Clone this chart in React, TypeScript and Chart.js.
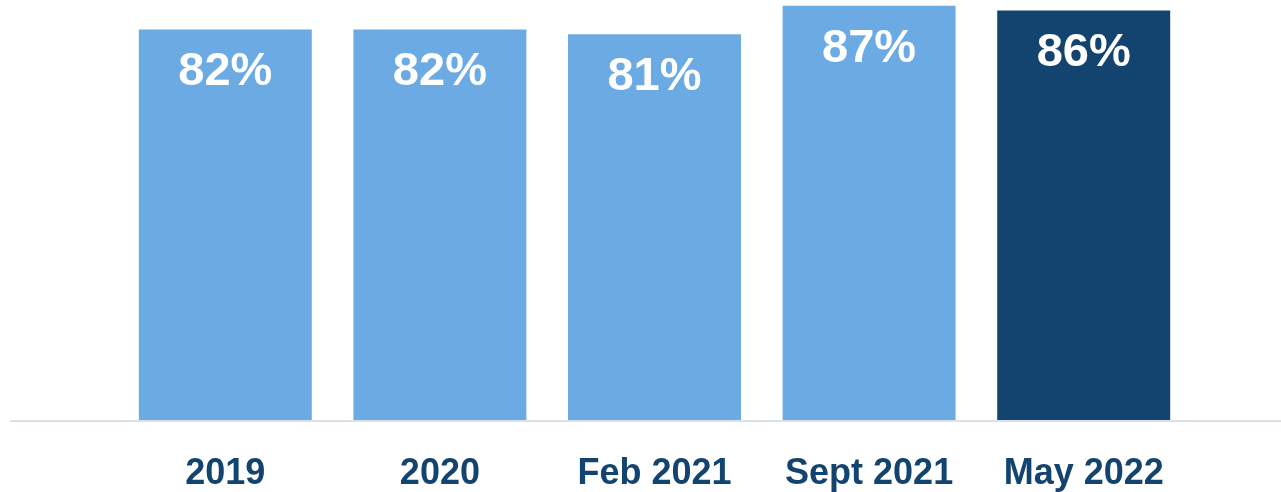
import React, { useEffect, useRef } from "react";
import { Chart, registerables } from "chart.js";

Chart.register(...registerables);

const categories = ["2019", "2020", "Feb 2021", "Sept 2021", "May 2022"];
const values = [82, 82, 81, 87, 86];
const barColors = ["#6CAAE3", "#6CAAE3", "#6CAAE3", "#6CAAE3", "#13446F"];

const FONT = "'Liberation Sans', Arial, Helvetica, sans-serif";

const baselinePlugin = {
  id: "baseline",
  beforeDatasetsDraw(chart: any) {
    const { ctx, scales } = chart;
    const y = scales.y.getPixelForValue(0);
    ctx.save();
    ctx.strokeStyle = "#D9E2EA";
    ctx.lineWidth = 2;
    ctx.beginPath();
    ctx.moveTo(10, y + 1);
    ctx.lineTo(chart.width, y + 1);
    ctx.stroke();
    ctx.restore();
  },
};

const valueLabelPlugin = {
  id: "valueLabels",
  afterDatasetsDraw(chart: any) {
    const { ctx } = chart;
    const meta = chart.getDatasetMeta(0);
    ctx.save();
    ctx.fillStyle = "#FFFFFF";
    ctx.font = `bold 47px ${FONT}`;
    ctx.textAlign = "center";
    ctx.textBaseline = "middle";
    meta.data.forEach((bar: any, i: number) => {
      ctx.fillText(`${values[i]}%`, bar.x, bar.y + 43);
    });
    ctx.restore();
  },
};

export default function App() {
  const ref = useRef<HTMLCanvasElement | null>(null);
  useEffect(() => {
    if (!ref.current) return;
    const chart = new Chart(ref.current, {
      type: "bar",
      data: {
        labels: categories,
        datasets: [
          {
            data: values,
            backgroundColor: barColors,
            borderWidth: 0,
            categoryPercentage: 1,
            barPercentage: 0.806,
          },
        ],
      },
      options: {
        animation: false,
        responsive: false,
        maintainAspectRatio: false,
        layout: { padding: { left: 118, right: 90, top: 0, bottom: 0 } },
        plugins: { legend: { display: false }, tooltip: { enabled: false } },
        scales: {
          x: {
            grid: { display: false, drawTicks: false },
            border: { display: false },
            afterFit: (scale: any) => {
              scale.height = 72;
            },
            ticks: {
              padding: 32,
              color: "#13446F",
              font: { family: FONT, size: 36, weight: "bold" },
              maxRotation: 0,
              autoSkip: false,
            },
          },
          y: {
            display: false,
            min: 0,
            max: 88.2,
          },
        },
      },
      plugins: [baselinePlugin, valueLabelPlugin],
    });
    return () => chart.destroy();
  }, []);
  return (
    <div style={{ position: "fixed", left: 0, top: 0, width: 1281, height: 492, background: "#fff" }}>
      <canvas ref={ref} width={1281} height={492} style={{ width: 1281, height: 492 }} />
    </div>
  );
}
